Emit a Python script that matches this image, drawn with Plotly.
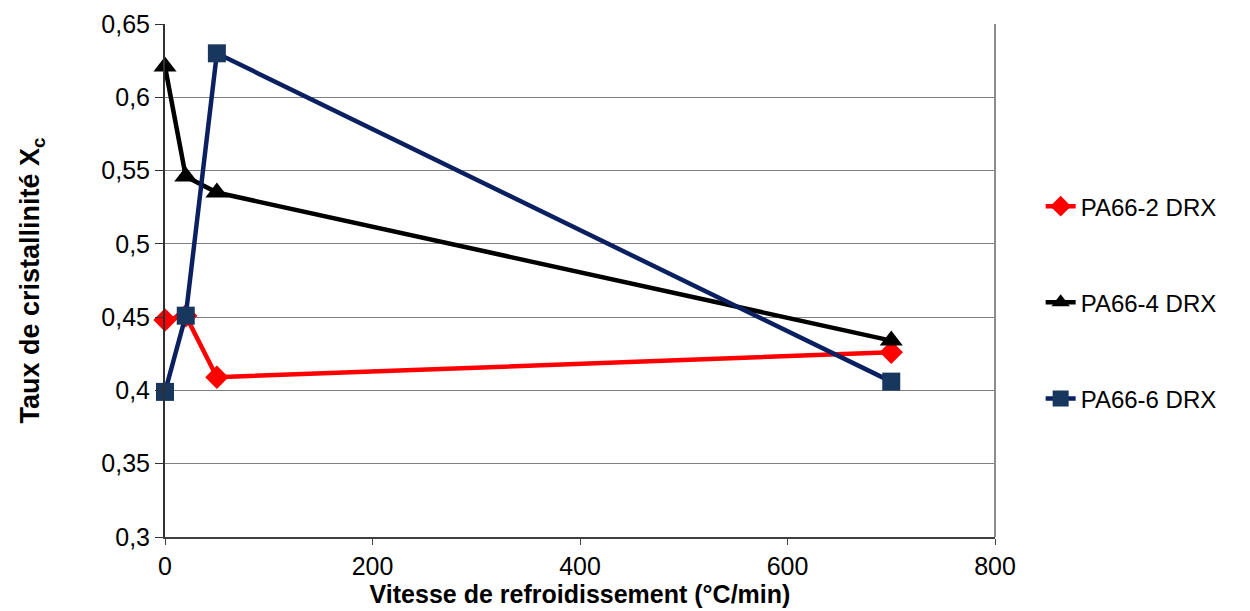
import plotly.graph_objects as go

# data
vitesse = [0, 20, 50, 700]
pa66_2 = [0.448, 0.451, 0.409, 0.426]
pa66_4 = [0.621, 0.546, 0.535, 0.434]
pa66_6 = [0.399, 0.451, 0.630, 0.406]

series_names = ["PA66-2 DRX", "PA66-4 DRX", "PA66-6 DRX"]
y_ticks = [0.3, 0.35, 0.4, 0.45, 0.5, 0.55, 0.6, 0.65]
y_tick_labels = ["0,3", "0,35", "0,4", "0,45", "0,5", "0,55", "0,6", "0,65"]
x_ticks = [0, 200, 400, 600, 800]

font = "Liberation Sans, Arial, sans-serif"

fig = go.Figure()
fig.add_trace(go.Scatter(x=vitesse, y=pa66_2, name=series_names[0], mode="lines+markers",
                         line=dict(color="#ff0000", width=4.5),
                         marker=dict(symbol="diamond", size=18, color="#ff0000"),
                         legendgroup="a", cliponaxis=False))
fig.add_trace(go.Scatter(x=vitesse, y=pa66_4, name=series_names[1], mode="lines+markers",
                         line=dict(color="#000000", width=4.5),
                         marker=dict(symbol="triangle-up", size=20, color="#000000"),
                         legendgroup="b", cliponaxis=False))
fig.add_trace(go.Scatter(x=vitesse, y=pa66_6, name=series_names[2], mode="lines+markers",
                         line=dict(color="#0a2060", width=4.5),
                         marker=dict(symbol="square", size=18, color="#17375e"),
                         legendgroup="c", cliponaxis=False))

# page has an 8px body margin, so the figure is shrunk by that much
fig.update_layout(
    width=1242, height=603,
    margin=dict(l=157, r=255, t=16, b=74),
    paper_bgcolor="white", plot_bgcolor="white",
    font=dict(family=font, size=25, color="black"),
    legend=dict(x=1.055, y=0.457, yanchor="middle", xanchor="left",
                font=dict(size=24), tracegroupgap=62, bgcolor="rgba(0,0,0,0)"),
    xaxis=dict(range=[0, 800], tickvals=x_ticks, showgrid=False, zeroline=False,
               showline=True, linecolor="#404040", linewidth=2, automargin=False,
               ticks="outside", ticklen=6, tickcolor="#404040",
               title=dict(text="<b>Vitesse de refroidissement (°C/min)</b>",
                          font=dict(size=25), standoff=0)),
    yaxis=dict(range=[0.3, 0.65], tickvals=y_ticks, ticktext=y_tick_labels,
               showgrid=True, gridcolor="#808080", gridwidth=1, zeroline=False,
               showline=True, linecolor="#303030", linewidth=2, automargin=False,
               ticks="outside", ticklen=8, tickcolor="#303030",
               title=dict(text="<b>Taux de cristallinité X<sub>c</sub></b>",
                          font=dict(size=27), standoff=54)),
)

# gray frame on the right side of the plot area
fig.add_shape(type="line", xref="x domain", yref="y domain", x0=1, x1=1, y0=0, y1=1,
              line=dict(color="#8c8c8c", width=2))

fig.write_html("out.html")
